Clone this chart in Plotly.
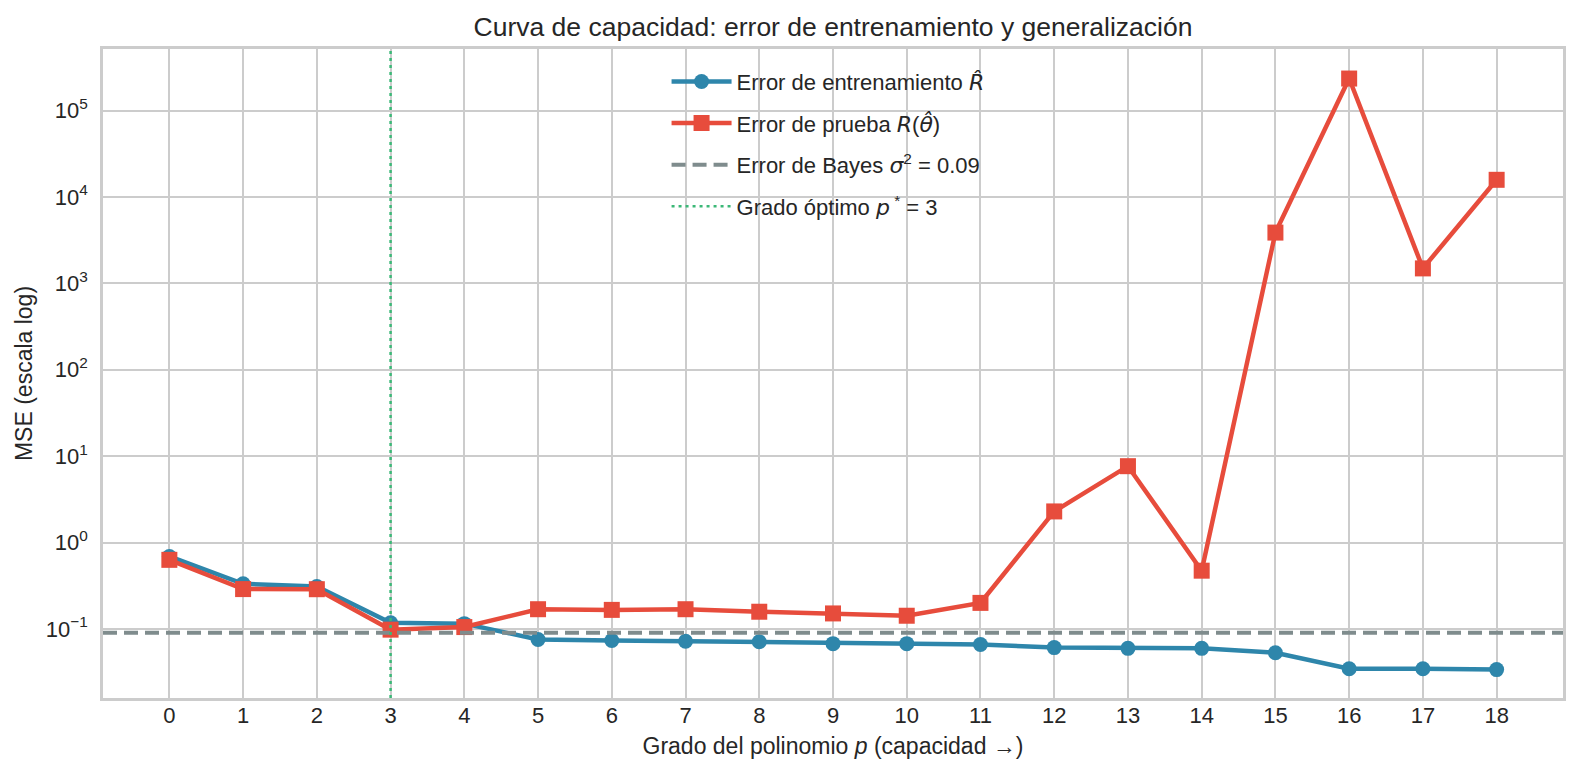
import plotly.graph_objects as go

# data
degrees = list(range(19))
train_mse = [0.69, 0.333, 0.31, 0.118, 0.115, 0.0755, 0.0735, 0.072, 0.071,
             0.0675, 0.0675, 0.066, 0.0607, 0.0595, 0.0595, 0.053, 0.0346,
             0.0346, 0.0338]
test_mse = [0.63, 0.289, 0.288, 0.098, 0.105, 0.169, 0.166, 0.169, 0.158,
            0.151, 0.142, 0.20, 2.29, 7.65, 0.472, 3870, 235000, 1490, 15800]
bayes_error = 0.09
p_opt = 3

ytick_vals = [1e-1, 1e0, 1e1, 1e2, 1e3, 1e4, 1e5]
ytick_text = ["10<sup>−1</sup>", "10<sup>0</sup>", "10<sup>1</sup>", "10<sup>2</sup>",
              "10<sup>3</sup>", "10<sup>4</sup>", "10<sup>5</sup>"]

BLUE = "#2E86AB"
RED = "#E74C3C"
GRAY = "#7F8C8D"
GREEN = "#3BB877"
TEXT = "#262626"
FONT = "Liberation Sans, Arial, sans-serif"
MATH = "<span style='font-family:DejaVu Sans'><i>{}</i></span>"

fig = go.Figure()
fig.add_trace(go.Scatter(
    x=degrees, y=train_mse, mode="lines+markers",
    name="Error de entrenamiento " + MATH.format("R̂"), legendgroup="a",
    line=dict(color=BLUE, width=4.5),
    marker=dict(symbol="circle", size=15, color=BLUE, line=dict(width=0)),
))
fig.add_trace(go.Scatter(
    x=degrees, y=test_mse, mode="lines+markers",
    name="Error de prueba " + MATH.format("R") + "(" + MATH.format("θ̂") + ")",
    legendgroup="b",
    line=dict(color=RED, width=4.5),
    marker=dict(symbol="square", size=16, color=RED, line=dict(width=0)),
))
# legend-only entries for the reference lines
fig.add_trace(go.Scatter(
    x=[None], y=[None], mode="lines", legendgroup="c",
    name="Error de Bayes " + MATH.format("σ") + "<sup>2</sup> = 0.09",
    line=dict(color=GRAY, width=4, dash="14px,7px"),
))
fig.add_trace(go.Scatter(
    x=[None], y=[None], mode="lines", legendgroup="d",
    name="Grado óptimo " + MATH.format("p") + "<sup> *</sup> = 3",
    line=dict(color=GREEN, width=2.5, dash="3px,4px"),
))

fig.add_hline(y=bayes_error, line=dict(color=GRAY, width=4, dash="14px,7px"))
fig.add_vline(x=p_opt, line=dict(color=GREEN, width=2.5, dash="3px,4px"))

fig.update_layout(
    width=1579,
    height=779,
    margin=dict(l=103, r=16, t=49, b=81),
    paper_bgcolor="white",
    plot_bgcolor="white",
    font=dict(family=FONT, color=TEXT, size=22),
    title=dict(
        text="Curva de capacidad: error de entrenamiento y generalización",
        x=0.5, xref="paper", xanchor="center",
        y=1 - 27 / 779, yref="container", yanchor="middle",
        font=dict(size=26.5, color=TEXT),
    ),
    legend=dict(
        x=0.386, y=0.982, xanchor="left", yanchor="top",
        bgcolor="rgba(0,0,0,0)",
        font=dict(size=22, color=TEXT),
        traceorder="grouped",
        tracegroupgap=10,
        itemwidth=60,
    ),
    showlegend=True,
)
fig.update_xaxes(
    range=[-0.9, 18.9],
    tickmode="array", tickvals=degrees,
    tickfont=dict(size=22, color=TEXT),
    ticks="", ticklabelstandoff=-4,
    showgrid=True, gridcolor="#CCCCCC", gridwidth=1.8,
    zeroline=False,
    showline=True, mirror=True, linecolor="#CCCCCC", linewidth=2.5,
    title=dict(text="Grado del polinomio <i>p</i> (capacidad →)",
               font=dict(size=23, color=TEXT), standoff=11),
)
fig.update_yaxes(
    type="log", range=[-1.80, 5.713],
    tickmode="array", tickvals=ytick_vals, ticktext=ytick_text,
    tickfont=dict(size=22, color=TEXT),
    ticks="", ticklabelstandoff=8,
    showgrid=True, gridcolor="#CCCCCC", gridwidth=1.8,
    zeroline=False,
    showline=True, mirror=True, linecolor="#CCCCCC", linewidth=2.5,
    title=dict(text="MSE (escala log)", font=dict(size=23, color=TEXT), standoff=7),
)

# the default page body has an 8px margin; drop it so the figure sits at 0,0
fig.write_html("out.html", config={"displayModeBar": False},
               post_script="document.body.style.margin='0';")
